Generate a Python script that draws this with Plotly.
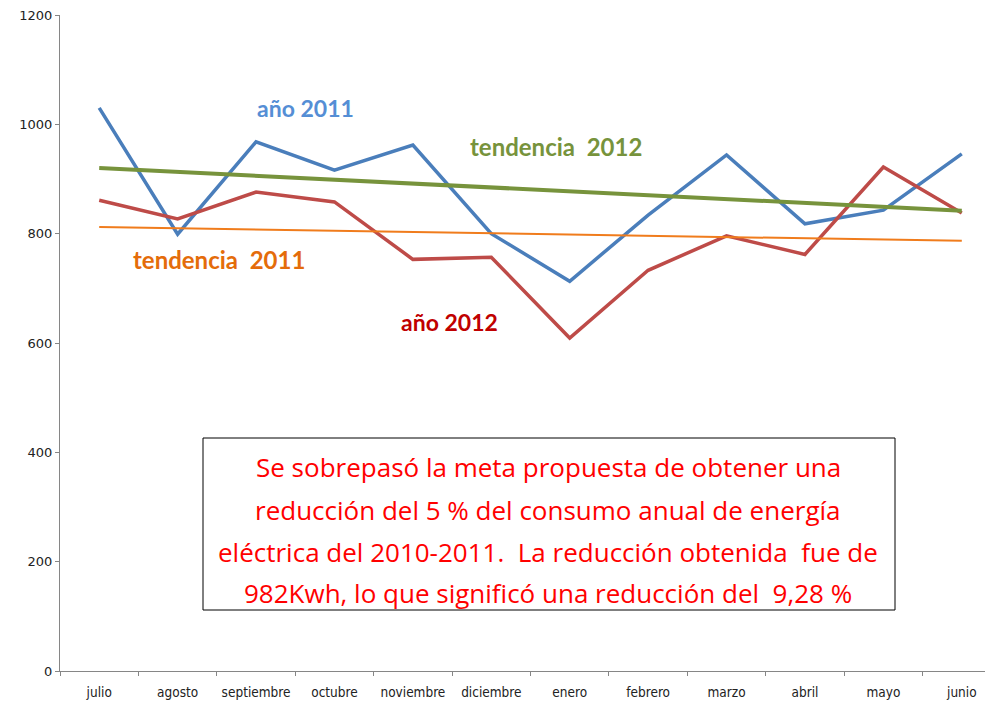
import plotly.graph_objects as go

months = ["julio", "agosto", "septiembre", "octubre", "noviembre", "diciembre",
          "enero", "febrero", "marzo", "abril", "mayo", "junio"]
y2011 = [1030, 799, 968, 916, 962, 800, 713, 834, 944, 818, 843, 946]
y2012 = [861, 827, 876, 858, 753, 757, 609, 733, 796, 762, 922, 838]
trend_x = ["julio", "junio"]
trend_green = [920, 842]
trend_orange = [812, 787]
y_ticks = [0, 200, 400, 600, 800, 1000, 1200]
box_lines = [
    "Se sobrepasó la meta propuesta de obtener una",
    "reducción del 5 % del consumo anual de energía",
    "eléctrica del 2010-2011.  La reducción obtenida  fue de",
    "982Kwh, lo que significó una reducción del  9,28 %",
]

fig = go.Figure()
fig.add_trace(go.Scatter(x=months, y=y2011, mode="lines",
                         line=dict(color="#4A7EBB", width=3.5), name="año 2011"))
fig.add_trace(go.Scatter(x=months, y=y2012, mode="lines",
                         line=dict(color="#BE4B48", width=3.5), name="año 2012"))
fig.add_trace(go.Scatter(x=trend_x, y=trend_green, mode="lines",
                         line=dict(color="#77933C", width=4), name="tendencia 2012"))
fig.add_trace(go.Scatter(x=trend_x, y=trend_orange, mode="lines",
                         line=dict(color="#F07C1C", width=2), name="tendencia 2011"))

lab_font = "Lato, 'Open Sans', sans-serif"

# screen coordinates -> paper (plot area on screen: x 60..1001, y 15..671)
def px(x):
    return (x - 60) / 941.0
def py(y):
    return (671 - y) / 656.0

def label(x, y, text, color, size):
    fig.add_annotation(x=px(x), y=py(y), xref="paper", yref="paper", text="<b>%s</b>" % text,
                       showarrow=False, font=dict(family=lab_font, size=size, color=color),
                       xanchor="center", yanchor="middle")

label(305, 108, "año 2011", "#558ED5", 23)
label(556, 146, "tendencia  2012", "#77933C", 24)
label(219, 259, "tendencia  2011", "#E46C0A", 24)
label(449, 322, "año 2012", "#C00000", 23)

fig.add_shape(type="rect", xref="paper", yref="paper",
              x0=px(203), x1=px(895), y0=py(610), y1=py(438),
              line=dict(color="#000000", width=1), fillcolor="white", layer="above")
line_y = [467, 510, 552, 593]
for t, yy in zip(box_lines, line_y):
    fig.add_annotation(x=px(548), y=py(yy), xref="paper", yref="paper", text=t,
                       showarrow=False, xanchor="center", yanchor="middle",
                       font=dict(family="'Open Sans', Lato, sans-serif", size=26, color="#FF0000"))

xtick_font = dict(family="'DejaVu Sans Condensed', 'Liberation Sans Narrow', sans-serif",
                  size=13.5, color="#222222")
ytick_font = dict(family="'DejaVu Sans', sans-serif", size=13, color="#222222")
fig.update_layout(
    width=993, height=703,
    margin=dict(l=52, r=0, t=7, b=40),
    paper_bgcolor="white", plot_bgcolor="white",
    showlegend=False,
    xaxis=dict(type="category", categoryorder="array", categoryarray=months,
               range=[-0.5, 11.5], showline=True, linecolor="#868686", linewidth=1,
               ticks="outside", tickson="boundaries", ticklen=4, tickcolor="#868686",
               ticklabelstandoff=9,
               showgrid=False, zeroline=False, tickfont=xtick_font),
    yaxis=dict(range=[0, 1200], tickvals=y_ticks, showline=True, linecolor="#868686",
               linewidth=1, ticks="outside", ticklen=4, tickcolor="#868686",
               ticklabeloverflow="allow",
               showgrid=False, zeroline=False, tickfont=ytick_font),
)
fig.write_html("out.html")
